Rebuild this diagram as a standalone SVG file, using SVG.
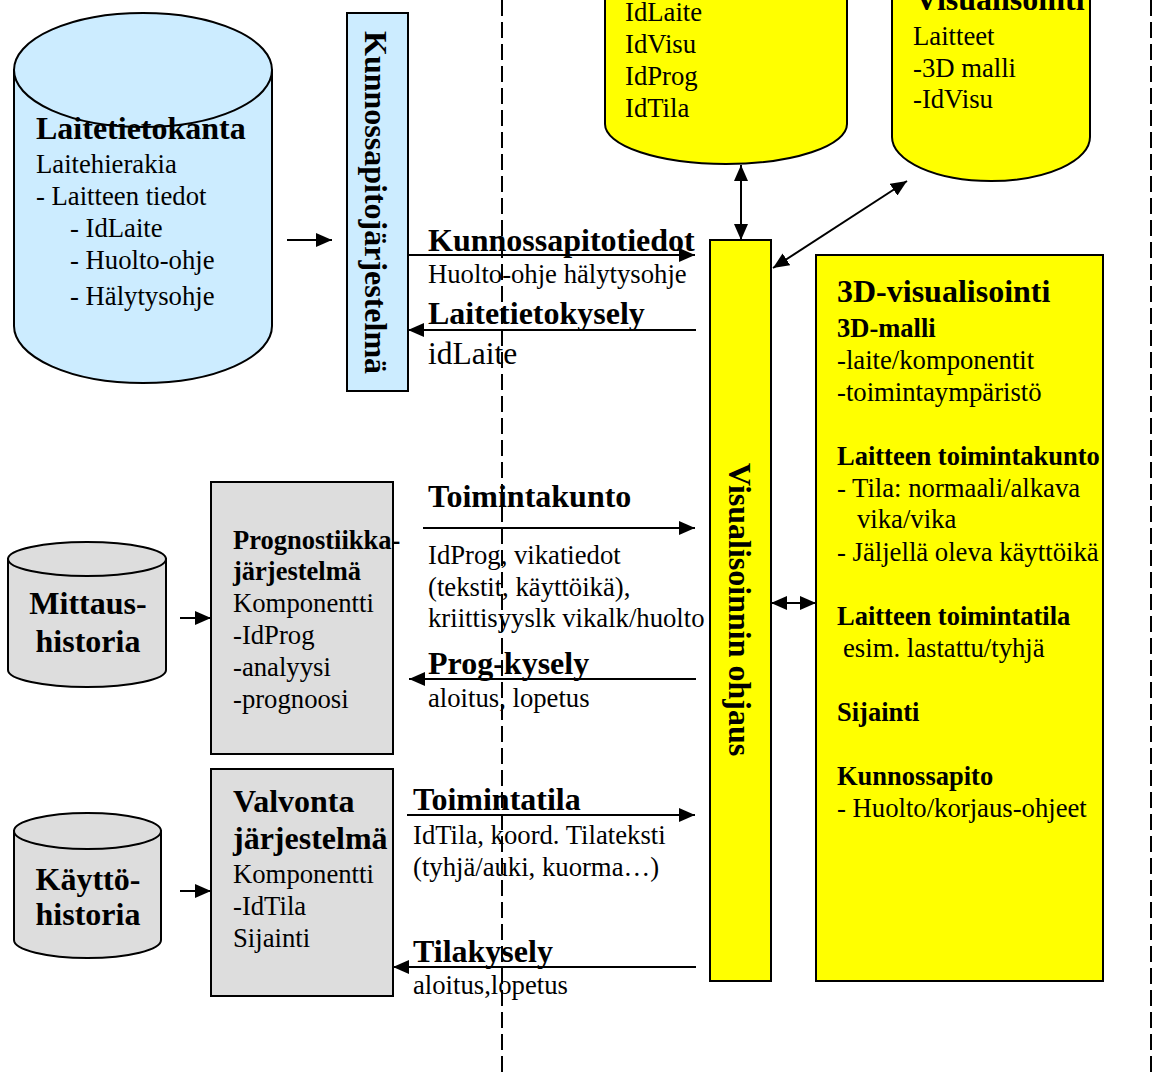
<svg xmlns="http://www.w3.org/2000/svg" width="1156" height="1072" viewBox="0 0 1156 1072">
  <style>
    text { font-family: "Liberation Serif", "Times New Roman", serif; fill: #000; }
    .r { font-size: 26.7px; }
    .rl { font-size: 31.5px; }
    .b { font-size: 26.5px; font-weight: bold; }
    .bl { font-size: 32px; font-weight: bold; }
    .bv { font-size: 32px; font-weight: bold; }
    .blue { fill: #CCECFF; stroke: #000; stroke-width: 2; }
    .gray { fill: #DDDDDD; stroke: #000; stroke-width: 2; }
    .yel { fill: #FFFF00; stroke: #000; stroke-width: 2; }
    .con { stroke: #000; stroke-width: 2; fill: none; }
    .dash { stroke: #000; stroke-width: 2; stroke-dasharray: 16 6; fill: none; }
  </style>
  <defs>
    <marker id="ah" viewBox="0 0 16 14" refX="16" refY="7" markerWidth="16" markerHeight="14" markerUnits="userSpaceOnUse" orient="auto-start-reverse">
      <path d="M0,0 L16,7 L0,14 Z" fill="#000"/>
    </marker>
  </defs>
  <rect width="1156" height="1072" fill="#fff"/>

  <!-- zone separators -->
  <g id="separators">
    <line class="dash" x1="502" y1="0" x2="502" y2="1072"/>
    <line class="dash" x1="1151" y1="0" x2="1151" y2="1072"/>
  </g>

  <!-- device database -->
  <g id="laitetietokanta">
    <path class="blue" d="M14,70 L14,326 A129,57 0 0 0 272,326 L272,70 Z"/>
    <ellipse class="blue" cx="143" cy="70" rx="129" ry="57"/>
    <text class="bl" x="36" y="139">Laitetietokanta</text>
    <text class="r" x="36" y="173">Laitehierakia</text>
    <text class="r" x="36" y="205">- Laitteen tiedot</text>
    <text class="r" x="70" y="237">- IdLaite</text>
    <text class="r" x="70" y="269">- Huolto-ohje</text>
    <text class="r" x="70" y="305">- Hälytysohje</text>
  </g>

  <!-- maintenance system -->
  <g id="kunnossapito">
    <rect class="blue" x="347" y="13" width="61" height="378"/>
    <text class="bv" transform="translate(365,31) rotate(90)">Kunnossapitojärjestelmä</text>
  </g>

  <!-- id database (top) -->
  <g id="id-db">
    <path class="yel" d="M605,-60 L605,124 A121,40 0 0 0 847,124 L847,-60 Z"/>
    <text class="r" x="625" y="21">IdLaite</text>
    <text class="r" x="625" y="53">IdVisu</text>
    <text class="r" x="625" y="85">IdProg</text>
    <text class="r" x="625" y="117">IdTila</text>
  </g>

  <!-- visualisation database (top) -->
  <g id="visu-db">
    <path class="yel" d="M892,-60 L892,137 A99,44 0 0 0 1090,137 L1090,-60 Z"/>
    <text class="bl" x="915" y="10">Visualisointi</text>
    <text class="r" x="913" y="45">Laitteet</text>
    <text class="r" x="913" y="77">-3D malli</text>
    <text class="r" x="913" y="108">-IdVisu</text>
  </g>

  <!-- visualisation control -->
  <g id="visu-ohjaus">
    <rect class="yel" x="710" y="240" width="61" height="741"/>
    <text class="bv" transform="translate(729,463) rotate(90)">Visualisoinnin ohjaus</text>
  </g>

  <!-- 3D visualisation -->
  <g id="visualisointi-3d">
    <rect class="yel" x="816" y="255" width="287" height="726"/>
    <text class="bl" x="837" y="302">3D-visualisointi</text>
    <text class="b" x="837" y="337">3D-malli</text>
    <text class="r" x="837" y="369">-laite/komponentit</text>
    <text class="r" x="837" y="401">-toimintaympäristö</text>
    <text class="b" x="837" y="465">Laitteen toimintakunto</text>
    <text class="r" x="837" y="497">- Tila: normaali/alkava</text>
    <text class="r" x="857" y="528">vika/vika</text>
    <text class="r" x="837" y="561">- Jäljellä oleva käyttöikä</text>
    <text class="b" x="837" y="625">Laitteen toimintatila</text>
    <text class="r" x="843" y="657">esim. lastattu/tyhjä</text>
    <text class="b" x="837" y="721">Sijainti</text>
    <text class="b" x="837" y="785">Kunnossapito</text>
    <text class="r" x="837" y="817">- Huolto/korjaus-ohjeet</text>
  </g>

  <!-- measurement history -->
  <g id="mittaushistoria">
    <path class="gray" d="M8,559 L8,670 A79,17 0 0 0 166,670 L166,559 Z"/>
    <ellipse class="gray" cx="87" cy="559" rx="79" ry="17"/>
    <text class="bl" x="88" y="614" text-anchor="middle">Mittaus-</text>
    <text class="bl" x="88" y="652" text-anchor="middle">historia</text>
  </g>

  <!-- prognostics system -->
  <g id="prognostiikka">
    <rect class="gray" x="211" y="482" width="182" height="272"/>
    <text class="b" x="233" y="549">Prognostiikka-</text>
    <text class="b" x="233" y="580">järjestelmä</text>
    <text class="r" x="233" y="612">Komponentti</text>
    <text class="r" x="233" y="644">-IdProg</text>
    <text class="r" x="233" y="676">-analyysi</text>
    <text class="r" x="233" y="708">-prognoosi</text>
  </g>

  <!-- usage history -->
  <g id="kayttohistoria">
    <path class="gray" d="M14,831 L14,940 A73.5,18 0 0 0 161,940 L161,831 Z"/>
    <ellipse class="gray" cx="87.5" cy="831" rx="73.5" ry="18"/>
    <text class="bl" x="88" y="890" text-anchor="middle">Käyttö-</text>
    <text class="bl" x="88" y="925" text-anchor="middle">historia</text>
  </g>

  <!-- monitoring system -->
  <g id="valvonta">
    <rect class="gray" x="211" y="769" width="182" height="227"/>
    <text class="bl" x="233" y="812">Valvonta</text>
    <text class="bl" x="233" y="849">järjestelmä</text>
    <text class="r" x="233" y="883">Komponentti</text>
    <text class="r" x="233" y="915">-IdTila</text>
    <text class="r" x="233" y="947">Sijainti</text>
  </g>

  <!-- message labels -->
  <g id="labels">
    <text class="bl" x="428" y="251">Kunnossapitotiedot</text>
    <text class="r" x="428" y="283">Huolto-ohje hälytysohje</text>
    <text class="bl" x="428" y="324">Laitetietokysely</text>
    <text class="rl" x="428" y="364">idLaite</text>
    <text class="bl" x="428" y="507">Toimintakunto</text>
    <text class="r" x="428" y="564">IdProg, vikatiedot</text>
    <text class="r" x="428" y="596">(tekstit, käyttöikä),</text>
    <text class="r" x="428" y="627">kriittisyyslk vikalk/huolto</text>
    <text class="bl" x="428" y="674">Prog-kysely</text>
    <text class="r" x="428" y="707">aloitus, lopetus</text>
    <text class="bl" x="413" y="810">Toimintatila</text>
    <text class="r" x="413" y="844">IdTila, koord. Tilateksti</text>
    <text class="r" x="413" y="876">(tyhjä/auki, kuorma…)</text>
    <text class="bl" x="413" y="962">Tilakysely</text>
    <text class="r" x="413" y="994">aloitus,lopetus</text>
  </g>

  <!-- connectors -->
  <g id="connectors">
    <line class="con" x1="287" y1="240" x2="332" y2="240" marker-end="url(#ah)"/>
    <line class="con" x1="408" y1="255" x2="695" y2="255" marker-end="url(#ah)"/>
    <line class="con" x1="696" y1="330" x2="408" y2="330" marker-end="url(#ah)"/>
    <line class="con" x1="741" y1="165" x2="741" y2="240" marker-start="url(#ah)" marker-end="url(#ah)"/>
    <line class="con" x1="773" y1="268" x2="907" y2="181" marker-start="url(#ah)" marker-end="url(#ah)"/>
    <line class="con" x1="423" y1="528" x2="695" y2="528" marker-end="url(#ah)"/>
    <line class="con" x1="696" y1="679" x2="409" y2="679" marker-end="url(#ah)"/>
    <line class="con" x1="180" y1="618" x2="211" y2="618" marker-end="url(#ah)"/>
    <line class="con" x1="771" y1="603" x2="816" y2="603" marker-start="url(#ah)" marker-end="url(#ah)"/>
    <line class="con" x1="180" y1="891" x2="211" y2="891" marker-end="url(#ah)"/>
    <line class="con" x1="407" y1="815" x2="695" y2="815" marker-end="url(#ah)"/>
    <line class="con" x1="696" y1="967" x2="393" y2="967" marker-end="url(#ah)"/>
  </g>
</svg>
